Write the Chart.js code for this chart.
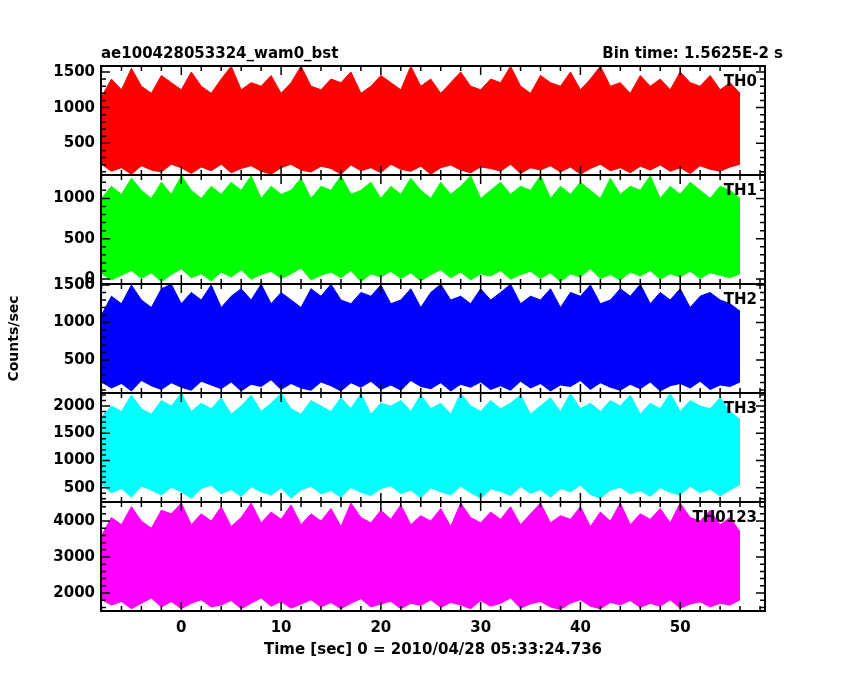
<!DOCTYPE html>
<html><head><meta charset="utf-8">
<script src="https://cdn.jsdelivr.net/npm/chart.js@4/dist/chart.umd.min.js"></script>
<style>html,body{margin:0;background:#fff}#w{width:850px;height:680px}</style>
</head><body><div id="w"><canvas id="c"></canvas></div>
<script>
const times=[-8,-7,-6,-5,-4,-3,-2,-1,0,1,2,3,4,5,6,7,8,9,10,11,12,13,14,15,16,17,18,19,20,21,22,23,24,25,26,27,28,29,30,31,32,33,34,35,36,37,38,39,40,41,42,43,44,45,46,47,48,49,50,51,52,53,54,55,56];
const panelNames=['TH0','TH1','TH2','TH3','TH0123'];
const th0Hi=[1150,1400,1250,1550,1300,1200,1450,1350,1250,1500,1300,1200,1400,1580,1250,1350,1300,1450,1200,1350,1580,1300,1250,1400,1350,1500,1200,1300,1450,1350,1250,1580,1300,1400,1200,1350,1500,1300,1250,1400,1350,1580,1300,1200,1450,1350,1300,1500,1250,1400,1580,1300,1350,1200,1450,1300,1400,1250,1500,1350,1300,1450,1250,1350,1200];
const th0Lo=[200,100,150,60,180,120,90,200,150,70,160,110,200,80,140,180,100,60,150,200,120,90,170,140,60,190,110,150,80,200,130,100,170,60,150,190,120,80,160,140,100,200,70,150,120,180,90,160,60,140,200,110,150,80,170,120,190,100,150,70,180,130,100,160,200];
const th1Hi=[1000,1150,1050,1250,1100,1000,1200,1050,1280,1100,1000,1150,1050,1200,1100,1280,1000,1150,1050,1100,1250,1000,1150,1100,1280,1050,1100,1200,1000,1150,1050,1250,1100,1000,1200,1050,1150,1280,1000,1100,1200,1050,1150,1100,1280,1000,1150,1050,1200,1100,1000,1250,1050,1150,1100,1280,1000,1150,1050,1200,1100,1000,1150,1100,1000];
const th1Lo=[60,-20,40,100,0,70,-40,50,120,10,60,-30,80,20,110,-10,50,90,0,60,130,-20,40,80,10,100,-40,60,20,90,0,70,-30,50,110,10,80,-20,60,30,100,-10,50,90,0,70,-40,60,20,120,0,50,-20,80,30,100,-10,60,20,90,0,70,40,10,60];
const th2Hi=[1100,1350,1250,1500,1300,1200,1450,1510,1250,1400,1300,1500,1200,1350,1450,1300,1510,1250,1400,1300,1200,1450,1350,1510,1300,1250,1400,1350,1500,1250,1300,1450,1200,1400,1510,1300,1350,1250,1450,1300,1400,1510,1250,1350,1300,1450,1200,1400,1350,1500,1250,1300,1450,1350,1510,1250,1400,1300,1450,1200,1350,1400,1300,1250,1150];
const th2Lo=[200,120,180,80,220,150,100,190,130,90,210,160,110,200,80,170,140,230,100,180,120,90,200,150,80,190,130,210,100,160,90,220,140,110,190,80,170,130,200,100,150,90,210,120,180,80,160,140,220,100,190,130,90,170,110,200,80,150,180,120,210,100,160,140,200];
const th3Hi=[1800,2000,1900,2200,1950,1850,2100,2000,2230,1900,2050,1950,2150,1850,2000,2200,1900,2050,2230,1950,1850,2100,2000,1900,2150,1950,2230,1850,2050,2000,2100,1900,2200,1950,2050,1850,2230,2000,1900,2100,1950,2050,2200,1850,2000,2150,1900,2230,1950,2050,1900,2100,2000,2200,1850,2050,1950,2230,1900,2100,2000,1950,2150,1900,1750];
const th3Lo=[550,400,480,320,520,450,360,500,420,300,480,540,380,460,330,510,420,360,490,300,450,520,380,440,320,500,410,350,480,530,380,450,310,490,420,360,520,400,300,470,430,350,510,390,460,320,480,420,540,370,300,450,500,380,440,330,490,410,360,520,400,470,340,450,550];
const th4Hi=[3600,4100,3900,4400,4000,3800,4300,4200,4500,3900,4200,4000,4400,3850,4100,4500,3950,4250,4050,4450,3900,4200,4000,4350,3850,4500,4100,3950,4300,4050,4450,3900,4150,4000,4350,3850,4500,4100,3950,4250,4050,4400,3900,4200,4500,3950,4150,4050,4400,3850,4250,4000,4500,3900,4200,4050,4350,3950,4500,4100,4000,4300,3900,4100,3700];
const th4Lo=[1800,1650,1750,1550,1700,1850,1600,1750,1550,1700,1800,1600,1650,1780,1550,1700,1850,1620,1750,1560,1680,1800,1600,1720,1550,1700,1830,1600,1680,1760,1550,1700,1640,1800,1580,1720,1650,1550,1780,1620,1700,1850,1560,1690,1750,1600,1530,1700,1800,1620,1550,1720,1660,1780,1580,1700,1620,1800,1560,1680,1740,1600,1700,1650,1800];
const th0Ticks=[500,1000,1500], th1Ticks=[0,500,1000], th2Ticks=[500,1000,1500], th3Ticks=[500,1000,1500,2000], th4Ticks=[2000,3000,4000];
const xTicks=[0,10,20,30,40,50];
const ranges=[[56,1583],[-62,1290],[60,1513],[240,2238],[1500,4530]];
const hi=[th0Hi,th1Hi,th2Hi,th3Hi,th4Hi], lo=[th0Lo,th1Lo,th2Lo,th3Lo,th4Lo];
const tickSets=[th0Ticks,th1Ticks,th2Ticks,th3Ticks,th4Ticks];
const minorSteps=[100,100,100,100,200];
const colors=['#ff0000','#00ff00','#0000ff','#00ffff','#ff00ff'];
const FONT="'DejaVu Sans'";
const pts=a=>times.map((t,i)=>({x:t,y:a[i]})).filter(p=>p.y!==undefined);
const datasets=[]; const scales={};
scales.x={type:'linear',min:-8.05,max:58.5,grid:{display:false,drawTicks:false},border:{display:false},
  afterBuildTicks:s=>{s.ticks=xTicks.map(v=>({value:v}));},
  ticks:{color:'#000',font:{family:FONT,size:15,weight:'bold'},padding:8,autoSkip:false,maxRotation:0,callback:v=>String(v)},
  afterFit:s=>{s.height=69;}};
const order=[4,3,2,1,0];
order.forEach(k=>{
  const id='y'+k;
  scales[id]={type:'linear',position:'left',stack:'s',stackWeight:1,min:ranges[k][0],max:ranges[k][1],
    grid:{display:false,drawTicks:false},border:{display:false},
    afterBuildTicks:(s=>{s.ticks=tickSets[k].map(v=>({value:v}));}),
    afterFit:s=>{s.width=101;},
    ticks:{color:'#000',font:{family:FONT,size:15,weight:'bold'},padding:6,autoSkip:false,callback:v=>String(v)}};
  datasets.push({data:pts(lo[k]),yAxisID:id,borderWidth:0,pointRadius:0,fill:false,backgroundColor:colors[k]});
  datasets.push({data:pts(hi[k]),yAxisID:id,borderWidth:1,borderColor:colors[k],pointRadius:0,fill:'-1',backgroundColor:colors[k]});
});
const frame={id:'frame',afterDraw(c){
  const ctx=c.ctx, ca=c.chartArea, xs=c.scales.x;
  ctx.save(); ctx.strokeStyle='#000'; ctx.lineWidth=2;
  for(let k=0;k<5;k++){
    const s=c.scales['y'+k]; const top=s.top, bot=s.bottom;
    ctx.strokeRect(ca.left,top,ca.right-ca.left,bot-top);
    ctx.lineWidth=1.5;
    const st=minorSteps[k];
    for(let v=Math.ceil(ranges[k][0]/st)*st; v<=ranges[k][1]; v+=st){
      const y=s.getPixelForValue(v); const L=tickSets[k].includes(v)?9:5;
      ctx.beginPath();ctx.moveTo(ca.left,y);ctx.lineTo(ca.left+L,y);ctx.moveTo(ca.right,y);ctx.lineTo(ca.right-L,y);ctx.stroke();
    }
    for(let v=-8; v<=58; v+=2){
      const x=xs.getPixelForValue(v); const L=xTicks.includes(v)?9:5;
      ctx.beginPath();ctx.moveTo(x,top);ctx.lineTo(x,top+L);ctx.moveTo(x,bot);ctx.lineTo(x,bot-L);ctx.stroke();
    }
    ctx.lineWidth=2;
    ctx.fillStyle='#000'; ctx.font="bold 15px "+FONT; ctx.textAlign='right'; ctx.textBaseline='top';
    ctx.fillText(panelNames[k],ca.right-8,top+9);
  }
  ctx.font="bold 15px "+FONT; ctx.textBaseline='alphabetic';
  ctx.textAlign='left'; ctx.fillText('ae100428053324_wam0_bst',ca.left,ca.top-8);
  ctx.textAlign='right'; ctx.fillText('Bin time: 1.5625E-2 s',ca.right+18,ca.top-8);
  ctx.textAlign='center'; ctx.fillText('Time [sec] 0 = 2010/04/28 05:33:24.736',(ca.left+ca.right)/2,ca.bottom+43);
  ctx.translate(18,(ca.top+ca.bottom)/2); ctx.rotate(-Math.PI/2);
  ctx.font="bold 14px "+FONT; ctx.fillText('Counts/sec',0,0);
  ctx.restore();
}};
new Chart(document.getElementById('c'),{type:'line',data:{datasets},
  options:{responsive:true,maintainAspectRatio:false,animation:false,
    layout:{padding:{left:0,right:85,top:66,bottom:0}},
    plugins:{legend:{display:false},tooltip:{enabled:false}},scales},plugins:[frame]});
</script></body></html>
